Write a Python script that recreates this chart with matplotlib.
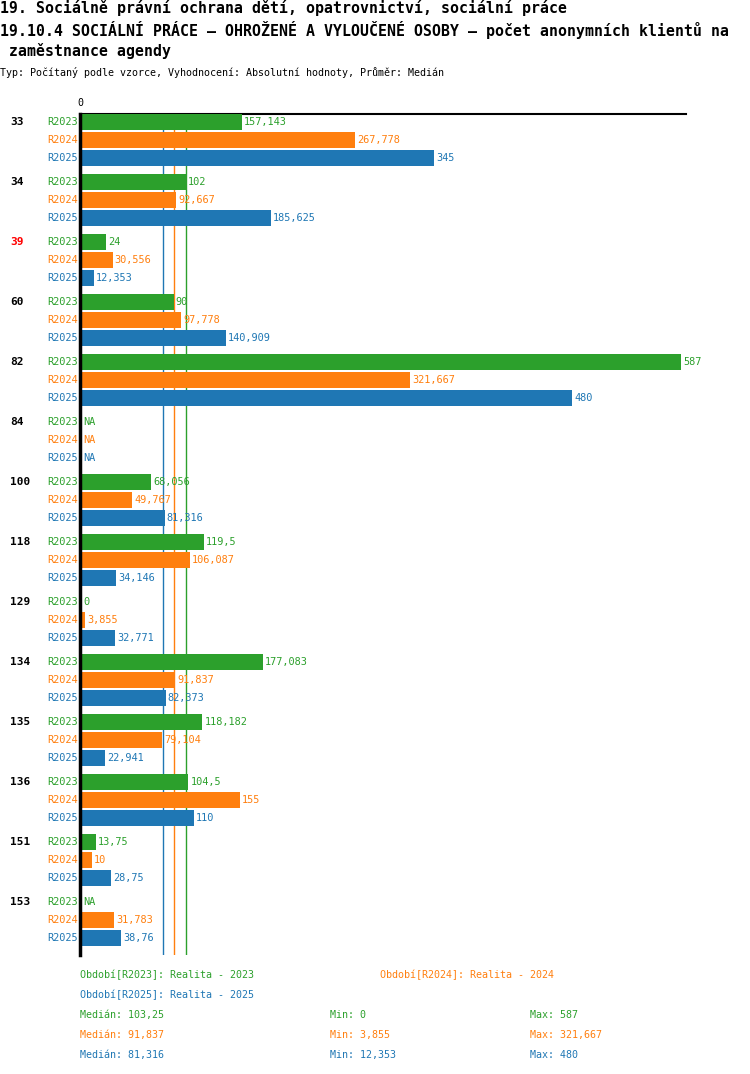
import matplotlib.pyplot as plt
import numpy as np

# data
groups = ['33', '34', '39', '60', '82', '84', '100', '118', '129', '134', '135', '136', '151', '153']
series = ['R2023', 'R2024', 'R2025']
r2023 = [157.143, 102, 24, 90, 587, None, 68.056, 119.5, 0, 177.083, 118.182, 104.5, 13.75, None]
r2024 = [267.778, 92.667, 30.556, 97.778, 321.667, None, 49.767, 106.087, 3.855, 91.837, 79.104, 155, 10, 31.783]
r2025 = [345, 185.625, 12.353, 140.909, 480, None, 81.316, 34.146, 32.771, 82.373, 22.941, 110, 28.75, 38.76]
medians = [103.25, 91.837, 81.316]
mins = ['0', '3,855', '12,353']
maxs = ['587', '321,667', '480']
legend_names = ['Období[R2023]: Realita - 2023', 'Období[R2024]: Realita - 2024', 'Období[R2025]: Realita - 2025']
highlight = '39'

colors = ['#2ca02c', '#ff7f0e', '#1f77b4']
W, H = 750, 1074
mono = 'DejaVu Sans Mono'

fig = plt.figure(figsize=(W / 100, H / 100), dpi=100)


def fx(px):
    return px / W


def fy(py):
    return 1 - py / H


# axes placed in pixel units
left, right, top, bottom = 80, 686, 114, 955
ax = fig.add_axes([fx(left), fy(bottom), fx(right - left), (bottom - top) / H])
ax.set_xlim(0, (right - left) / 1.022)
ax.set_ylim(bottom, top)
ax.axis('off')
ax.plot([0, 1], [1, 1], transform=ax.transAxes, color='black', lw=1.5, clip_on=False)
ax.plot([0, 0], [0, 1], transform=ax.transAxes, color='black', lw=2.5, clip_on=False, zorder=5)
ax.text(0, top - 6, '0', family=mono, fontsize=7.2, ha='center', va='bottom')

for m, c in zip(medians, colors):
    ax.axvline(m, color=c, lw=1, zorder=1)

data = [r2023, r2024, r2025]
for g, name in enumerate(groups):
    yc = 122 + 60 * g
    ax.text(-70 / 1.022, yc, name, family=mono, fontsize=8, fontweight='bold',
            color='red' if name == highlight else 'black', ha='left', va='center')
    for s in range(3):
        y = yc + 18 * s
        v = data[s][g]
        ax.text(-2 / 1.022, y, series[s], family=mono, fontsize=7.4, color=colors[s],
                ha='right', va='center')
        if v is None:
            ax.text(3 / 1.022, y, 'NA', family=mono, fontsize=7.4, color=colors[s],
                    ha='left', va='center')
            continue
        ax.barh(y, v, height=16, color=colors[s], zorder=2, left=1.5)
        lbl = f'{v:g}'.replace('.', ',')
        ax.text(v + 1.5 + 2 / 1.022, y, lbl, family=mono, fontsize=7.4, color=colors[s],
                ha='left', va='center')

# titles
tkw = dict(family=mono, fontsize=10.75, fontweight='bold', va='center')
fig.text(fx(0), fy(8), '19. Sociálně právní ochrana dětí, opatrovnictví, sociální práce', **tkw)
fig.text(fx(0), fy(30), '19.10.4 SOCIÁLNÍ PRÁCE – OHROŽENÉ A VYLOUČENÉ OSOBY – počet anonymních klientů na', **tkw)
fig.text(fx(0), fy(51), ' zaměstnance agendy', **tkw)
fig.text(fx(0), fy(73), 'Typ: Počítaný podle vzorce, Vyhodnocení: Absolutní hodnoty, Průměr: Medián',
         family=mono, fontsize=7.2, va='center')

# legend and stats
fig.text(fx(80), fy(975), legend_names[0], family=mono, fontsize=7.2, color=colors[0], va='center')
fig.text(fx(380), fy(975), legend_names[1], family=mono, fontsize=7.2, color=colors[1], va='center')
fig.text(fx(80), fy(995), legend_names[2], family=mono, fontsize=7.2, color=colors[2], va='center')
for s in range(3):
    yy = fy(1015 + 20 * s)
    med = f'{medians[s]:g}'.replace('.', ',')
    fig.text(fx(80), yy, 'Medián: ' + med, family=mono, fontsize=7.2, color=colors[s], va='center')
    fig.text(fx(330), yy, 'Min: ' + mins[s], family=mono, fontsize=7.2, color=colors[s], va='center')
    fig.text(fx(530), yy, 'Max: ' + maxs[s], family=mono, fontsize=7.2, color=colors[s], va='center')

fig.savefig('out.png', dpi=100)
